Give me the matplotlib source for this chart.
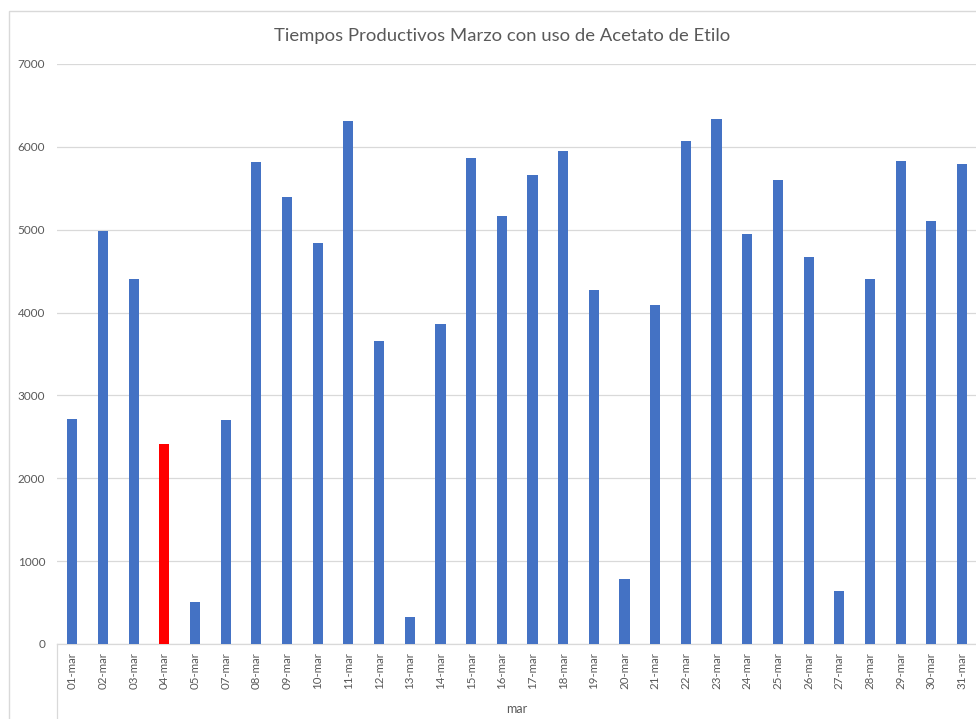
import matplotlib
matplotlib.use("Agg")
import matplotlib.pyplot as plt
from matplotlib.patches import Rectangle
from matplotlib.lines import Line2D

plt.rcParams['font.family'] = ['Lato', 'DejaVu Sans']

categories = ["01-mar", "02-mar", "03-mar", "04-mar", "05-mar", "07-mar", "08-mar",
              "09-mar", "10-mar", "11-mar", "12-mar", "13-mar", "14-mar", "15-mar",
              "16-mar", "17-mar", "18-mar", "19-mar", "20-mar", "21-mar", "22-mar",
              "23-mar", "24-mar", "25-mar", "26-mar", "27-mar", "28-mar", "29-mar",
              "30-mar", "31-mar"]
values = [2710, 4990, 4400, 2410, 510, 2700, 5820, 5400, 4840, 6310, 3660, 320,
          3860, 5860, 5170, 5660, 5950, 4270, 780, 4090, 6070, 6340, 4950, 5600,
          4670, 640, 4400, 5830, 5100, 5790]
highlight = "04-mar"
group_label = "mar"
title = "Tiempos Productivos Marzo con uso de Acetato de Etilo"
yticks = [0, 1000, 2000, 3000, 4000, 5000, 6000, 7000]

W, H = 976, 719
fig = plt.figure(figsize=(W / 100, H / 100), dpi=100)
fig.patch.set_facecolor("white")

# chart border (extends beyond the cropped image on right/bottom)
fig.patches.append(Rectangle((9 / W, -0.05), 1.2, 1 - 11 / H + 0.05,
                             transform=fig.transFigure, fill=False,
                             edgecolor="#d9d9d9", linewidth=1.0))

left, right = 57 / W, 977.3 / W
bottom, top = 1 - 644 / H, 1 - 64 / H
ax = fig.add_axes([left, bottom, right - left, top - bottom])

gray = "#595959"
colors = ["#FF0000" if c == highlight else "#4472C4" for c in categories]
x = list(range(len(categories)))
ax.bar(x, values, width=0.33, color=colors, zorder=3)

ax.set_xlim(-0.5, len(categories) - 0.5)
ax.set_ylim(0, 7000)
ax.set_yticks(yticks)
ax.set_yticklabels([str(v) for v in yticks], fontsize=8.5, color=gray)
ax.yaxis.grid(True, color="#d9d9d9", linewidth=0.9, zorder=0)
ax.set_xticks(x)
ax.set_xticklabels(categories, rotation=90, fontsize=8.3, color=gray)
ax.tick_params(axis="both", length=0)
ax.tick_params(axis="y", pad=8.5)
ax.tick_params(axis="x", pad=6)
for s in ["top", "right", "left"]:
    ax.spines[s].set_visible(False)
ax.spines["bottom"].set_color("#d9d9d9")
ax.spines["bottom"].set_linewidth(0.9)

# multi-level category separator line
ax.add_line(Line2D([0, 0], [0, -0.2], transform=ax.transAxes, color="#d9d9d9",
                   linewidth=0.9, clip_on=False))
ax.text(0.5, -(709 - 644) / 580, group_label, transform=ax.transAxes,
        ha="center", va="center", fontsize=9, color=gray)

fig.text(502 / W, 1 - 36 / H, title, ha="center", va="center",
         fontsize=13.3, color=gray)

fig.savefig("out.png", dpi=100, facecolor="white")
